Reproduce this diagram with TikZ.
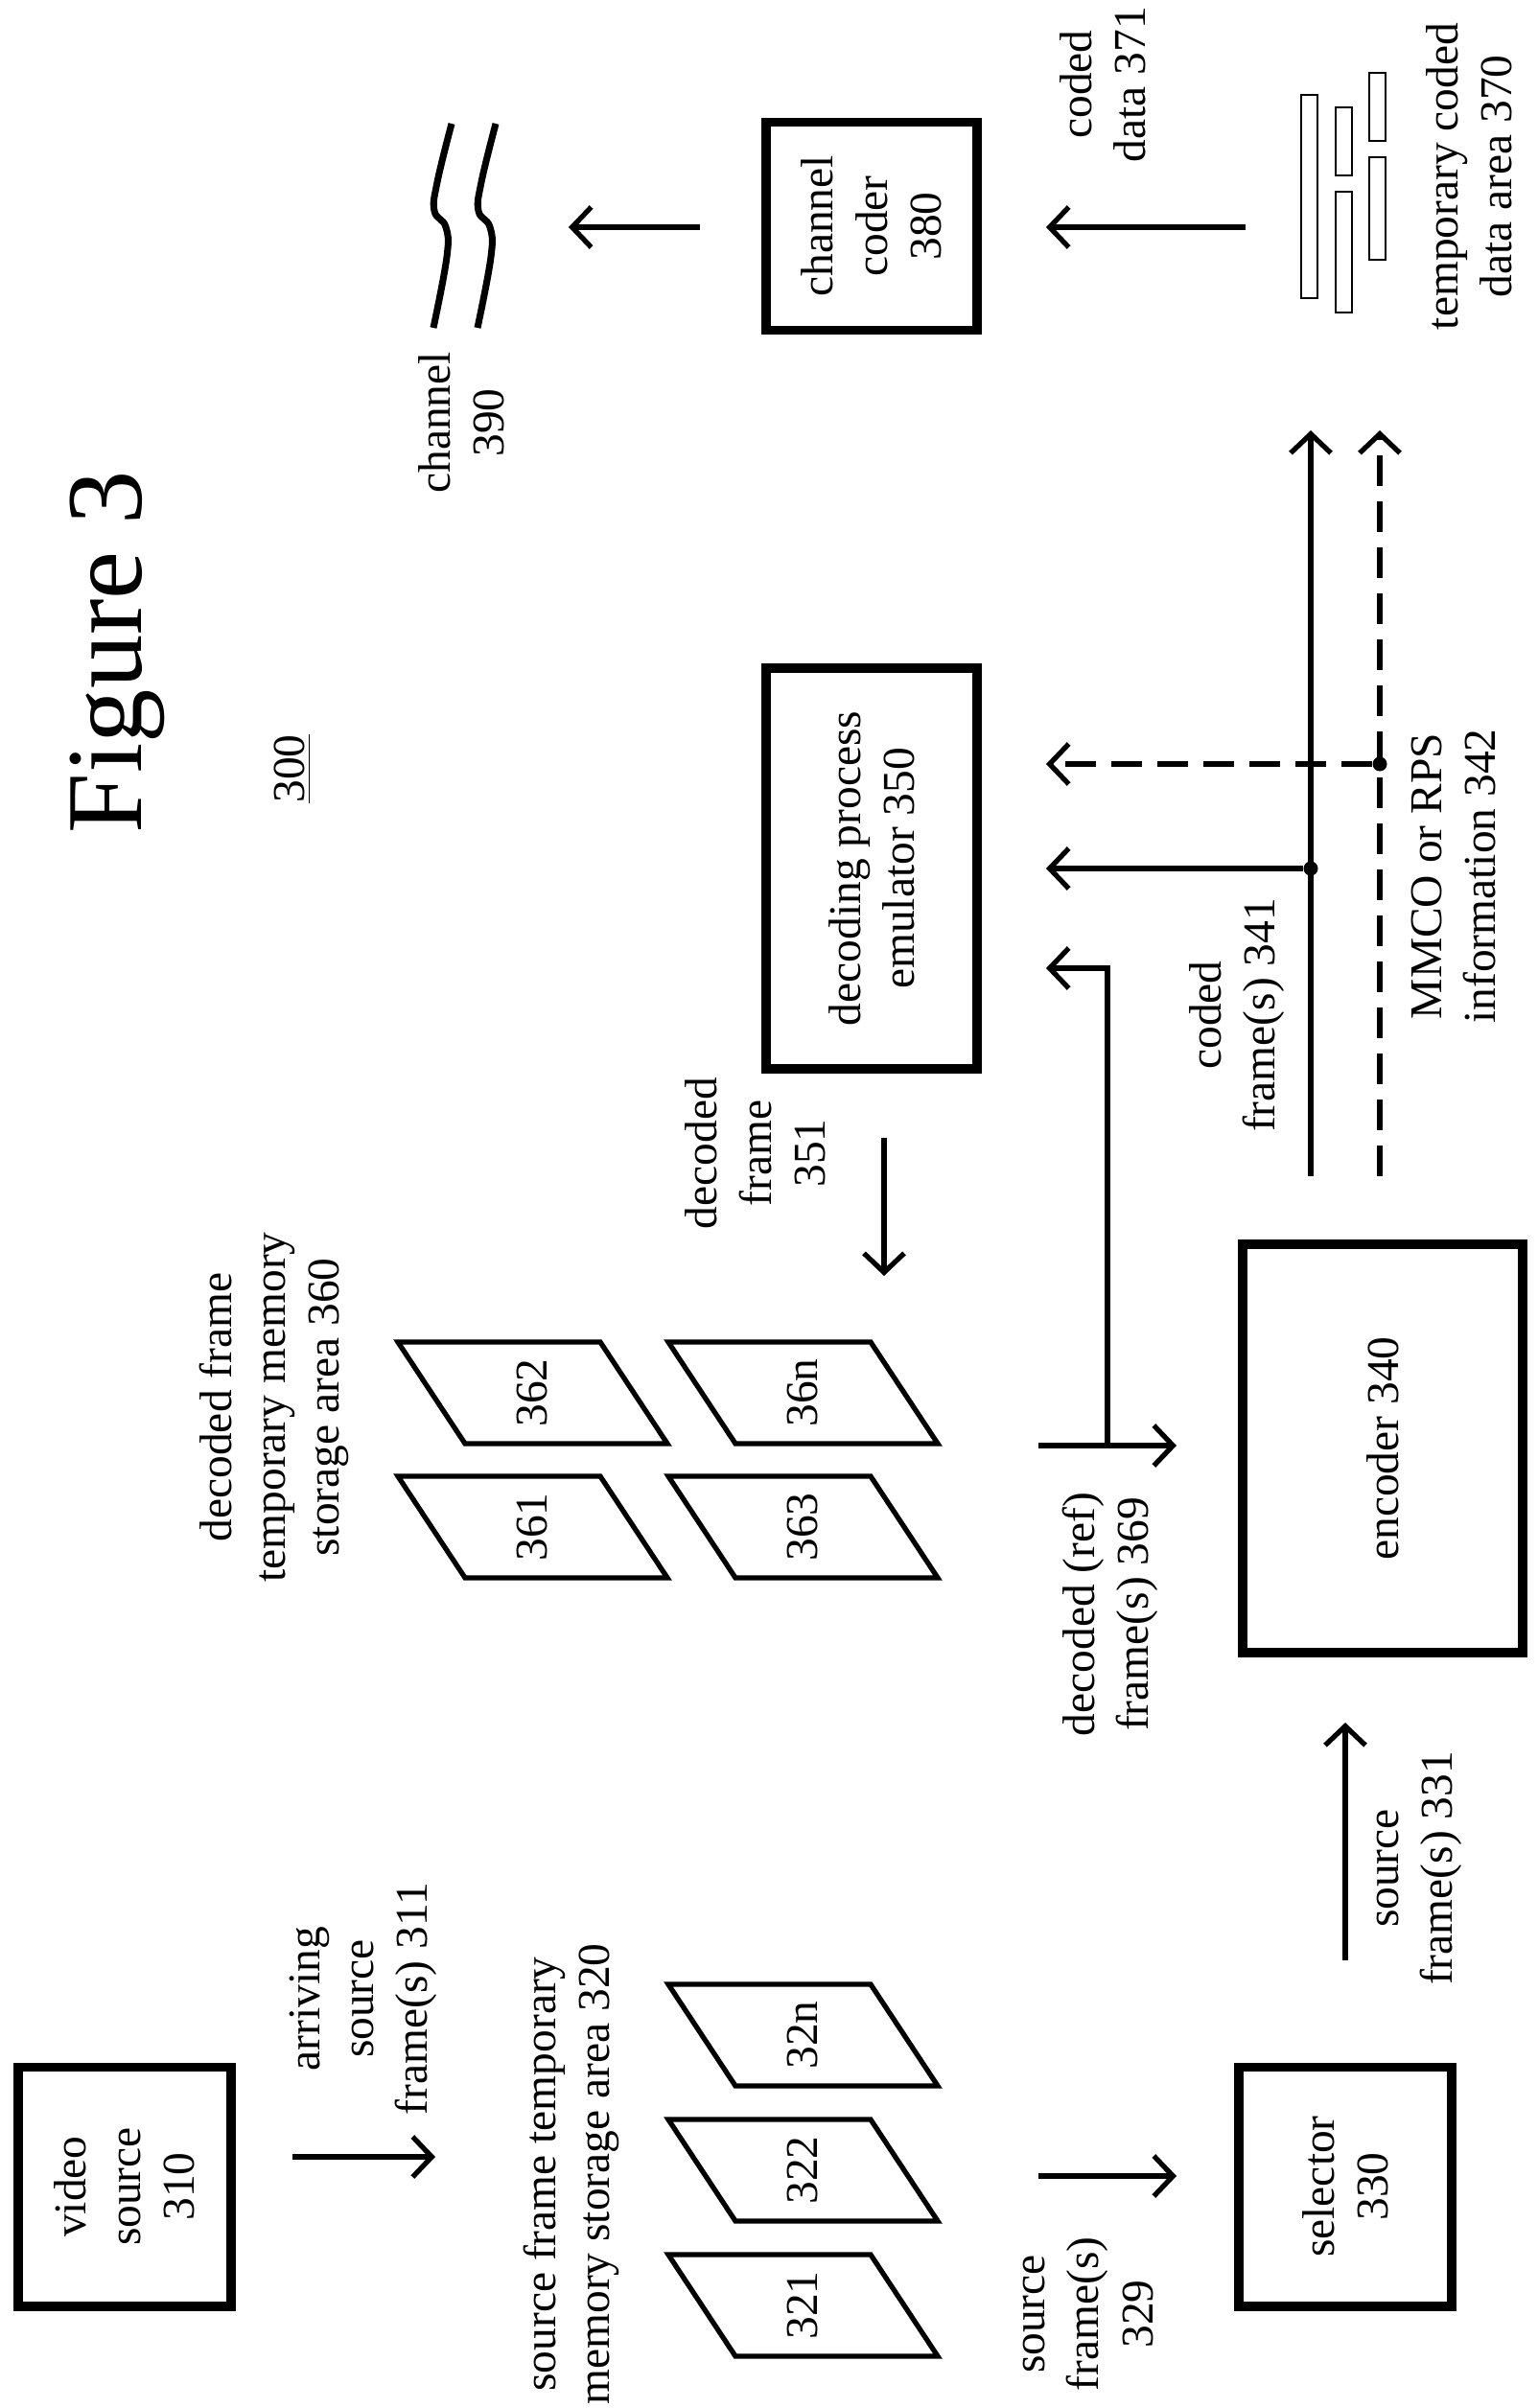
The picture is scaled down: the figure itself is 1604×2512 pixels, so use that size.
\documentclass[tikz,border=0pt]{standalone}
\usepackage{fontspec}
\setmainfont{Liberation Serif}
\usetikzlibrary{arrows.meta}

\begin{document}
\begin{tikzpicture}[
  x=0.01cm, y=-0.01cm,
  txt/.style={rotate=90, align=center, font=\fontsize{13.5pt}{16pt}\selectfont, inner sep=0pt},
  box/.style={draw=black, line width=2.8pt, rotate=90, align=center, inner sep=0pt,
              font=\fontsize{13.5pt}{16pt}\selectfont},
  frm/.style={line width=1.5pt, line join=miter},
  ar/.style={line width=1.5pt, -{Straight Barb[length=0.2cm, width=0.42cm, line width=1.5pt]}},
  da/.style={ar, dash pattern=on 0.32cm off 0.16cm},
  dot/.style={circle, fill=black, inner sep=0pt, minimum size=0.15cm},
  blk/.style={draw=black, line width=0.7pt}
]
\useasboundingbox (0,0) rectangle (1604,2512);

% --- Title ---
\node[txt, font=\fontsize{32pt}{36pt}\selectfont] (fig) at (122,680) {Figure 3};
\node[txt] (num) at (305,802) {\underline{300}};

% --- Boxes ---
\node[box, minimum width=2.49cm, minimum height=2.22cm] (src) at (130,2281) {video\\source\\310};
\node[box, minimum width=2.49cm, minimum height=2.22cm] (sel) at (1403,2281) {selector\\330};
\node[box, minimum width=4.25cm, minimum height=2.92cm] (enc) at (1442,1511) {encoder 340};
\node[box, minimum width=4.17cm, minimum height=2.20cm] (emu) at (909,906) {decoding process\\emulator 350};
\node[box, minimum width=2.17cm, minimum height=2.20cm] (chc) at (909,236) {channel\\coder\\380};

% --- Frame stores ---
\foreach \x/\y/\t in {697/2070/32n, 697/2211/322, 697/2352/321,
                      415/1400/362, 415/1540/361, 697/1400/36n, 697/1540/363} {
  \draw[frm] (\x,\y) -- ++(211,0) -- ++(70,106) -- ++(-211,0) -- cycle;
  \node[txt] (f\t) at (\x+140,\y+53) {\t};
}
\node[txt] (lbl320) at (596,2268) {source frame temporary\\memory storage area 320};
\node[txt] (lbl360) at (286,1468) {decoded frame\\temporary memory\\storage area 360};

% --- Coded data area ---
\foreach \x/\ya/\yb in {1357/99/311, 1393/112/183, 1393/200/326, 1428/76/147, 1428/164/271}
  \draw[blk] (\x,\ya) rectangle (\x+17,\yb);
\node[txt] (lbl370) at (1532,184) {temporary coded\\data area 370};

% --- Channel ---
\draw[line width=2pt] plot[smooth, tension=0.7] coordinates {(471,129) (456,190) (453,220) (465,237) (466,268) (452,342)};
\draw[line width=2pt] plot[smooth, tension=0.7] coordinates {(517,129) (502,190) (499,220) (511,237) (512,268) (498,342)};
\node[txt] (lbl390) at (481,441) {channel\\390};

% --- Connector end points ---
\coordinate (a1) at (305,2250);  \coordinate (a2) at (454,2250);
\coordinate (b1) at (1083,2270); \coordinate (b2) at (1227,2270);
\coordinate (c1) at (1403,2045); \coordinate (c2) at (1403,1797);
\coordinate (d1) at (1083,1508); \coordinate (d2) at (1227,1508);
\coordinate (d3) at (1155,1508); \coordinate (d4) at (1155,1010); \coordinate (d5) at (1091,1010);
\coordinate (e1) at (922,1187);  \coordinate (e2) at (922,1331);
\coordinate (g1) at (1367,1227); \coordinate (g2) at (1367,449);  \coordinate (g3) at (1091,906);
\coordinate (h1) at (1439,1227); \coordinate (h2) at (1439,449);  \coordinate (h3) at (1091,797);
\coordinate (k1) at (1299,237);  \coordinate (k2) at (1091,237);
\coordinate (m1) at (730,237);   \coordinate (m2) at (593,237);

% --- Connectors ---
\draw[ar] (a1) -- (a2);
\draw[ar] (b1) -- (b2);
\draw[ar] (c1) -- (c2);
\draw[ar] (d1) -- (d2);
\draw[ar] (d3) -- (d4) -- (d5);
\draw[ar] (e1) -- (e2);
\draw[ar] (g1) -- (g2);
\node[dot] (gd) at (1367,906) {};
\draw[ar] (gd) -- (g3);
\draw[da] (h1) -- (h2);
\node[dot] (hd) at (1439,797) {};
\draw[da] (hd) -- (h3);
\draw[ar] (k1) -- (k2);
\draw[ar] (m1) -- (m2);

% --- Connector labels ---
\node[txt] (l311) at (379,2085) {arriving\\source\\frame(s) 311};
\node[txt] (l329) at (1135,2414) {source\\frame(s)\\329};
\node[txt] (l331) at (1480,1949) {source\\frame(s) 331};
\node[txt] (l369) at (1158,1684) {decoded (ref)\\frame(s) 369};
\node[txt] (l351) at (788,1203) {decoded\\frame\\351};
\node[txt] (l341) at (1290,1059) {coded\\frame(s) 341};
\node[txt] (l342) at (1516,914) {MMCO or RPS\\information 342};
\node[txt] (l371) at (1150,88) {coded\\data 371};

\end{tikzpicture}
\end{document}
